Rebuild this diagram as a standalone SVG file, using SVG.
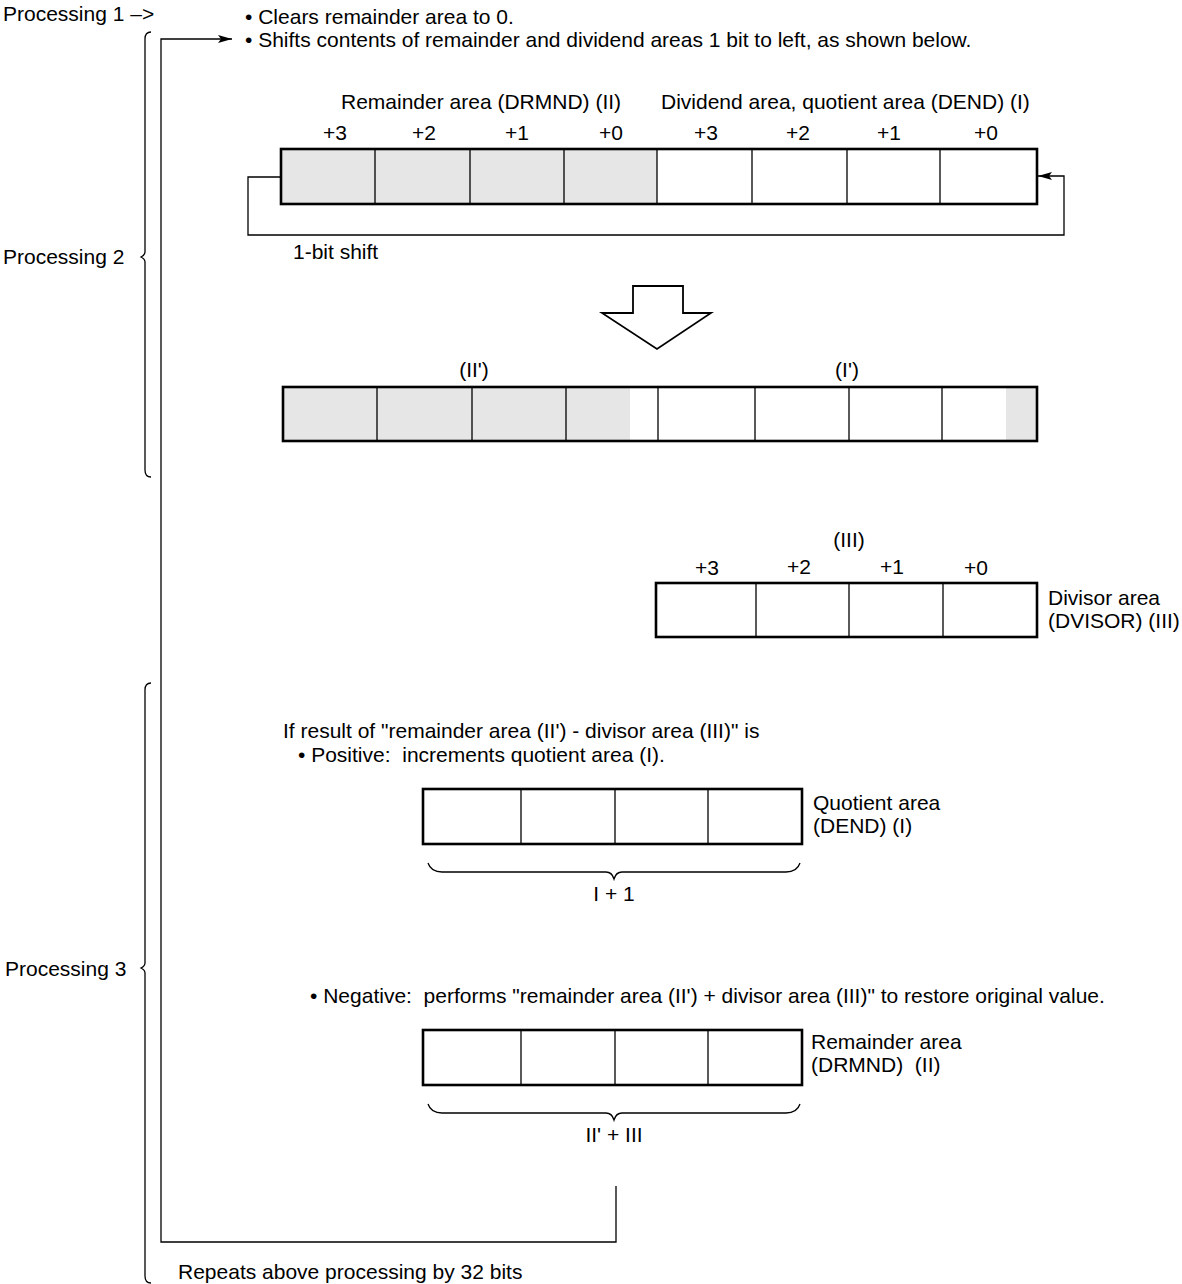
<svg xmlns="http://www.w3.org/2000/svg" width="1182" height="1284" viewBox="0 0 1182 1284">
<defs>
<style>
text{font-family:"Liberation Sans",Arial,Helvetica,sans-serif;font-size:21px;fill:#000}
.m{text-anchor:middle}
.frame{fill:none;stroke:#000;stroke-width:2.6}
.div{stroke:#000;stroke-width:1.3}
.gray{fill:#e6e6e6}
.ln{fill:none;stroke:#000;stroke-width:1.3}
</style>
<marker id="ah" markerWidth="14" markerHeight="8" refX="14" refY="4" orient="auto" markerUnits="userSpaceOnUse">
<path d="M0,0 L14,4 L0,8 L3,4 Z" fill="#000"/>
</marker>
</defs>
<rect width="1182" height="1284" fill="#fff"/>

<g id="labels">
<text x="3" y="21">Processing 1 –&gt;</text>
<text x="245" y="24">• Clears remainder area to 0.</text>
<text x="245" y="47">• Shifts contents of remainder and dividend areas 1 bit to left, as shown below.</text>
<text x="3" y="264">Processing 2</text>
<text x="5" y="976">Processing 3</text>
<text x="178" y="1279">Repeats above processing by 32 bits</text>
</g>

<g id="brace-p2">
<path class="ln" d="M151,32 Q145,32 145,39 L145,252 Q145,255 141,257 Q145,259 145,262 L145,470 Q145,477 151,477"/>
</g>
<g id="brace-p3">
<path class="ln" d="M151,683 Q145,683 145,690 L145,963 Q145,966 141,968 Q145,970 145,973 L145,1276 Q145,1283 151,1283"/>
</g>

<g id="register-1">
<text x="341" y="109">Remainder area (DRMND) (II)</text>
<text x="661" y="109">Dividend area, quotient area (DEND) (I)</text>
<text class="m" x="335" y="140">+3</text>
<text class="m" x="424" y="140">+2</text>
<text class="m" x="517" y="140">+1</text>
<text class="m" x="611" y="140">+0</text>
<text class="m" x="706" y="140">+3</text>
<text class="m" x="798" y="140">+2</text>
<text class="m" x="889" y="140">+1</text>
<text class="m" x="986" y="140">+0</text>
<rect class="gray" x="281" y="149" width="376" height="55"/>
<line class="div" x1="375" y1="149" x2="375" y2="204"/>
<line class="div" x1="470" y1="149" x2="470" y2="204"/>
<line class="div" x1="564" y1="149" x2="564" y2="204"/>
<line class="div" x1="657" y1="149" x2="657" y2="204"/>
<line class="div" x1="752" y1="149" x2="752" y2="204"/>
<line class="div" x1="847" y1="149" x2="847" y2="204"/>
<line class="div" x1="940" y1="149" x2="940" y2="204"/>
<rect class="frame" x="281" y="149" width="756" height="55"/>
<text x="293" y="259">1-bit shift</text>
</g>

<g id="down-arrow">
<path d="M633,286 L683,286 L683,313 L711,313 L657,349 L602,313 L633,313 Z" fill="#fff" stroke="#000" stroke-width="1.8"/>
</g>

<g id="register-2">
<text class="m" x="474" y="377">(II')</text>
<text class="m" x="847" y="377">(I')</text>
<rect class="gray" x="283" y="387" width="347" height="54"/>
<rect class="gray" x="1006" y="387" width="31" height="54"/>
<line class="div" x1="377" y1="387" x2="377" y2="441"/>
<line class="div" x1="472" y1="387" x2="472" y2="441"/>
<line class="div" x1="566" y1="387" x2="566" y2="441"/>
<line class="div" x1="658" y1="387" x2="658" y2="441"/>
<line class="div" x1="755" y1="387" x2="755" y2="441"/>
<line class="div" x1="849" y1="387" x2="849" y2="441"/>
<line class="div" x1="942" y1="387" x2="942" y2="441"/>
<rect class="frame" x="283" y="387" width="754" height="54"/>
</g>

<g id="register-divisor">
<text class="m" x="849" y="547">(III)</text>
<text class="m" x="707" y="575">+3</text>
<text class="m" x="799" y="574">+2</text>
<text class="m" x="892" y="574">+1</text>
<text class="m" x="976" y="575">+0</text>
<line class="div" x1="756" y1="583" x2="756" y2="637"/>
<line class="div" x1="849" y1="583" x2="849" y2="637"/>
<line class="div" x1="943" y1="583" x2="943" y2="637"/>
<rect class="frame" x="656" y="583" width="381" height="54"/>
<text x="1048" y="605">Divisor area</text>
<text x="1048" y="628">(DVISOR) (III)</text>
</g>

<g id="text-result">
<text x="283" y="738">If result of "remainder area (II') - divisor area (III)" is</text>
<text x="298" y="762" xml:space="preserve">• Positive:  increments quotient area (I).</text>
</g>

<g id="register-quotient">
<line class="div" x1="521" y1="789" x2="521" y2="844"/>
<line class="div" x1="615" y1="789" x2="615" y2="844"/>
<line class="div" x1="708" y1="789" x2="708" y2="844"/>
<rect class="frame" x="423" y="789" width="379" height="55"/>
<text x="813" y="810">Quotient area</text>
<text x="813" y="833">(DEND) (I)</text>
<path class="ln" d="M428,863 Q431,872 442,872 L606,872 Q612,872 614,879 Q616,872 622,872 L786,872 Q797,872 800,863"/>
<text class="m" x="614" y="901">I + 1</text>
</g>

<g id="text-negative">
<text x="310" y="1003" xml:space="preserve">• Negative:  performs "remainder area (II') + divisor area (III)" to restore original value.</text>
</g>

<g id="register-remainder">
<line class="div" x1="521" y1="1030" x2="521" y2="1085"/>
<line class="div" x1="615" y1="1030" x2="615" y2="1085"/>
<line class="div" x1="708" y1="1030" x2="708" y2="1085"/>
<rect class="frame" x="423" y="1030" width="379" height="55"/>
<text x="811" y="1049">Remainder area</text>
<text x="811" y="1072" xml:space="preserve">(DRMND)  (II)</text>
<path class="ln" d="M428,1104 Q431,1113 442,1113 L606,1113 Q612,1113 614,1120 Q616,1113 622,1113 L786,1113 Q797,1113 800,1104"/>
<text class="m" x="614" y="1142">II' + III</text>
</g>

<g id="connectors">
<polyline class="ln" points="281,177 248,177 248,235 1064,235 1064,176 1038,176" marker-end="url(#ah)"/>
<polyline class="ln" points="616,1186 616,1242 161,1242 161,39 232,39" marker-end="url(#ah)"/>
</g>
</svg>
